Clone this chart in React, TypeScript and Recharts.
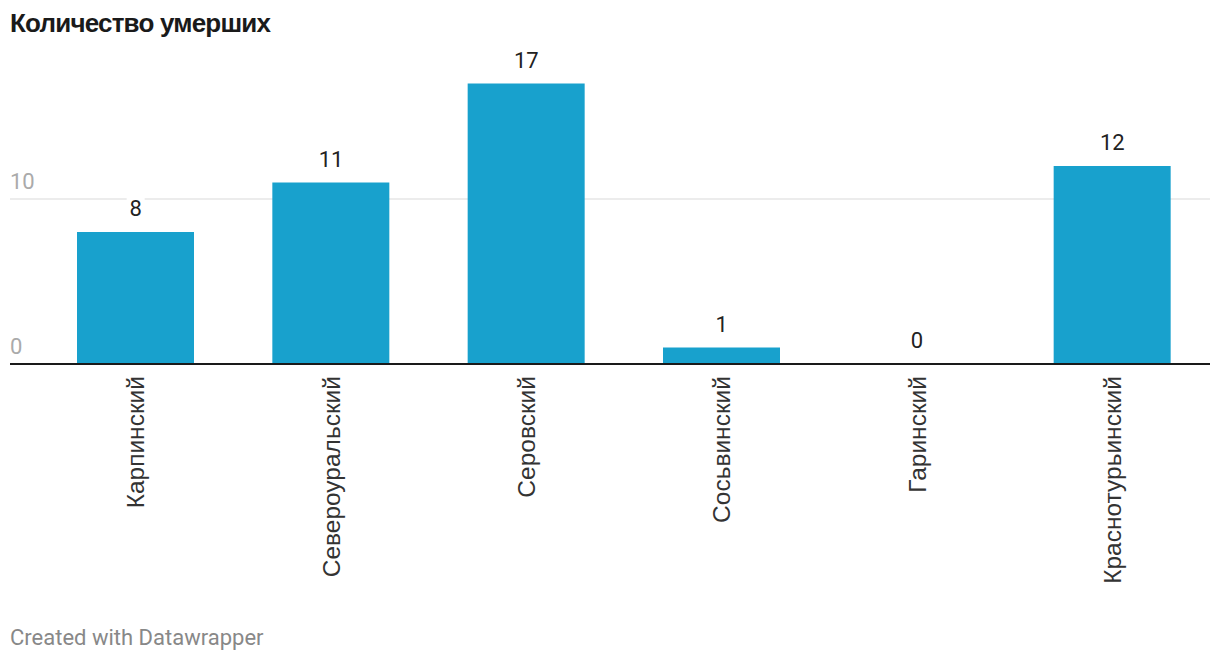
import React from 'react';
import { Bar, CartesianGrid, ComposedChart, LabelList, Line, Text, XAxis, YAxis } from 'recharts';

const districts = ['Карпинский', 'Североуральский', 'Серовский', 'Сосьвинский', 'Гаринский', 'Краснотурьинский'];
const deaths = [8, 11, 17, 1, 0, 12];
const yTicks = [0, 10];

const data = districts.map((name, i) => ({ name, deaths: deaths[i] }));

const BAR = '#18a1cd';

function XTick(props: any) {
  const { x, y, payload } = props;
  return (
    <Text
      x={x}
      y={y}
      angle={-90}
      textAnchor="end"
      verticalAnchor="middle"
      fill="#333"
      style={{ fontFamily: 'Liberation Sans, Arial, sans-serif', fontSize: 24.5 }}
    >
      {payload.value}
    </Text>
  );
}

function YTick(props: any) {
  const { y, payload } = props;
  return (
    <text x={10} y={y - 10} fill="#aaaaaa" style={{ fontFamily: 'Roboto', fontSize: 22 }}>
      {payload.value}
    </text>
  );
}

// value above each bar, on a white patch so the gridline breaks behind it
function ValueLabel(props: any) {
  const { x, y, value } = props;
  const ty = y - 16;
  const w = String(value).length * 12 + 6;
  return (
    <g>
      <rect x={x - w / 2} y={ty - 20} width={w} height={26} fill="#fff" />
      <text x={x} y={ty} textAnchor="middle" fill="#222" style={{ fontFamily: 'Roboto', fontSize: 22 }}>
        {value}
      </text>
    </g>
  );
}

export default function App() {
  return (
    <div style={{ position: 'absolute', left: 0, top: 0, width: 1220, height: 664, background: '#fff' }}>
      <div
        style={{
          position: 'absolute',
          left: 10,
          top: 8,
          fontFamily: 'Liberation Sans, Arial, sans-serif',
          fontWeight: 700,
          fontSize: 26,
          letterSpacing: -0.8,
          color: '#1a1a1a',
        }}
      >
        Количество умерших
      </div>
      <div style={{ position: 'absolute', left: 0, top: 0 }}>
        <ComposedChart
          width={1220}
          height={600}
          data={data}
          margin={{ top: 83.5, right: 10, bottom: 0, left: 9 }}
        >
          <CartesianGrid horizontalValues={yTicks} vertical={false} stroke="#e6e6e6" strokeWidth={1.5} />
          <XAxis
            dataKey="name"
            interval={0}
            height={236}
            padding={{ left: 28, right: 0 }}
            tickLine={false}
            tickMargin={6}
            axisLine={{ stroke: '#1a1a1a', strokeWidth: 2 }}
            tick={<XTick />}
          />
          <YAxis
            width={1}
            domain={[0, 17]}
            ticks={yTicks}
            interval={0}
            axisLine={false}
            tickLine={false}
            tick={<YTick />}
          />
          <Bar dataKey="deaths" fill={BAR} barSize={117} isAnimationActive={false} />
          <Line
            dataKey="deaths"
            stroke="none"
            dot={false}
            activeDot={false}
            isAnimationActive={false}
          >
            <LabelList dataKey="deaths" content={<ValueLabel />} />
          </Line>
        </ComposedChart>
      </div>
      <div
        style={{
          position: 'absolute',
          left: 10,
          top: 625,
          fontFamily: 'Roboto',
          fontSize: 22,
          color: '#888',
        }}
      >
        Created with Datawrapper
      </div>
    </div>
  );
}
